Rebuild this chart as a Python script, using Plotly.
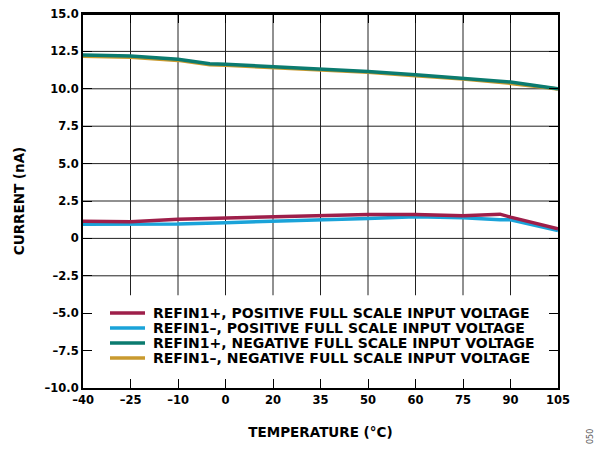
import plotly.graph_objects as go

# ─── Dados ───────────────────────────────
X_TICK_LABELS = ["–40", "–25", "–10", "0", "20", "35", "50", "60", "75", "90", "105"]
Y_TICK_VALS = [-10, -7.5, -5, -2.5, 0, 2.5, 5, 7.5, 10, 12.5, 15]
Y_TICK_LABELS = ["–10.0", "–7.5", "–5.0", "–2.5", "0", "2.5", "5.0", "7.5", "10.0", "12.5", "15.0"]

# posições no eixo (escala do gráfico, ticks igualmente espaçados)
X_NEG = [-40, -25.5, -11, -1.3, 3.5, 18, 32.5, 47, 61.5, 76, 90.5, 105]
REFIN1P_NEG = [12.26, 12.19, 11.97, 11.68, 11.64, 11.49, 11.36, 11.16, 10.94, 10.72, 10.46, 10.0]
REFIN1M_NEG = [12.18, 12.11, 11.90, 11.61, 11.57, 11.42, 11.29, 11.10, 10.88, 10.66, 10.36, 9.98]

X_POS = [-40, -25.5, -11, 3.5, 18, 32.5, 47, 61.5, 76, 87.3, 90.5, 105]
REFIN1P_POS = [1.14, 1.12, 1.28, 1.36, 1.45, 1.52, 1.60, 1.60, 1.52, 1.62, 1.42, 0.65]
REFIN1M_POS = [0.95, 0.95, 0.97, 1.05, 1.13, 1.20, 1.33, 1.45, 1.38, 1.25, 1.24, 0.52]

NOMES = [
    "REFIN1+, POSITIVE FULL SCALE INPUT VOLTAGE",
    "REFIN1–, POSITIVE FULL SCALE INPUT VOLTAGE",
    "REFIN1+, NEGATIVE FULL SCALE INPUT VOLTAGE",
    "REFIN1–, NEGATIVE FULL SCALE INPUT VOLTAGE",
]
CORES = ["#9E1F4A", "#1AA3D9", "#0B7B6F", "#C99A2E"]

FONTE = "DejaVu Sans, Arial, sans-serif"
X_MIN, X_MAX = -40, 105
x_ticks = [X_MIN + i * (X_MAX - X_MIN) / 10 for i in range(11)]

fig = go.Figure()

# grade (termina acima da área da legenda)
for xv in x_ticks[1:-1]:
    fig.add_shape(type="line", x0=xv, x1=xv, y0=-3.8, y1=15, xref="x", yref="y",
                  line=dict(color="#222222", width=1), layer="below")
for yv in Y_TICK_VALS:
    if -2.5 <= yv < 15:
        fig.add_shape(type="line", x0=X_MIN, x1=X_MAX, y0=yv, y1=yv, xref="x", yref="y",
                      line=dict(color="#222222", width=1), layer="below")
# borda superior
fig.add_shape(type="line", x0=0, x1=1, y0=1, y1=1, xref="paper", yref="paper",
              line=dict(color="#000000", width=2))

series = [
    (X_NEG, REFIN1M_NEG, 3),
    (X_NEG, REFIN1P_NEG, 2),
    (X_POS, REFIN1M_POS, 1),
    (X_POS, REFIN1P_POS, 0),
]
for xs, ys, i in series:
    fig.add_trace(go.Scatter(x=xs, y=ys, mode="lines", name=NOMES[i],
                             line=dict(color=CORES[i], width=3.5), showlegend=False))

# legenda manual (espaçamento compacto), em pixels da figura
L, R, T, B = 75, 550, 6, 380
def px(x):
    return (x - L) / (R - L)
def py(y):
    return (B - y) / (B - T)

for i, nome in enumerate(NOMES):
    yc = 305 + 15 * i
    fig.add_shape(type="line", xref="paper", yref="paper",
                  x0=px(102), x1=px(137), y0=py(yc), y1=py(yc),
                  line=dict(color=CORES[i], width=3.5))
    fig.add_annotation(xref="paper", yref="paper", x=px(143), y=py(yc),
                       xanchor="left", yanchor="middle", showarrow=False,
                       text=nome, font=dict(family=FONTE, size=14, color="#000000", weight="bold"))

fig.add_annotation(xref="paper", yref="paper", x=px(582), y=py(429),
                   xanchor="center", yanchor="middle", showarrow=False,
                   text="050", textangle=-90, font=dict(family=FONTE, size=8, color="#555555"))

fig.update_xaxes(
    range=[X_MIN, X_MAX], tickvals=x_ticks, ticktext=X_TICK_LABELS,
    showgrid=False, zeroline=False, showline=True, linecolor="#000000", linewidth=2,
    mirror="ticks", ticks="inside", ticklen=9, tickcolor="#000000", tickwidth=1,
    ticklabeloverflow="allow",
    tickfont=dict(family=FONTE, size=11.5, color="#000000", weight="bold"),
    title=dict(text="TEMPERATURE (°C)", font=dict(family=FONTE, size=13.5, color="#000000", weight="bold"), standoff=22),
)
fig.update_yaxes(
    range=[-10, 15], tickvals=Y_TICK_VALS, ticktext=Y_TICK_LABELS,
    showgrid=False, zeroline=False, showline=True, linecolor="#000000", linewidth=2,
    mirror="ticks", ticks="inside", ticklen=9, tickcolor="#000000", tickwidth=1,
    ticklabeloverflow="allow",
    tickfont=dict(family=FONTE, size=11.5, color="#000000", weight="bold"),
    title=dict(text="CURRENT (nA)", font=dict(family=FONTE, size=13.5, color="#000000", weight="bold"), standoff=17),
)

# margens compensam o deslocamento de 8 px do corpo da página
fig.update_layout(
    width=604, height=449,
    margin=dict(l=75, r=54, t=6, b=69, autoexpand=False),
    plot_bgcolor="#FFFFFF", paper_bgcolor="#FFFFFF",
    font=dict(family=FONTE, color="#000000"),
    showlegend=False,
)

fig.write_html("out.html")
